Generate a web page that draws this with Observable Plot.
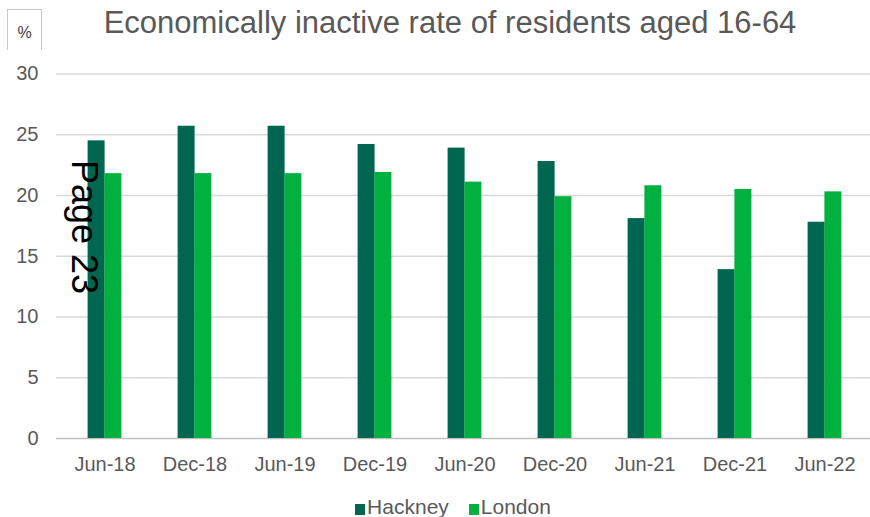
<!DOCTYPE html>
<html>
<head>
<meta charset="utf-8">
<script src="https://cdn.jsdelivr.net/npm/d3@7"></script>
<script src="https://cdn.jsdelivr.net/npm/@observablehq/plot@0.6"></script>
<style>
  html, body { margin: 0; padding: 0; background: #fff; }
  #wrap { position: relative; width: 870px; height: 517px; overflow: hidden; font-family: "Liberation Sans", Arial, sans-serif; color: #595959; }
  #title { position: absolute; left: 30px; width: 840px; top: 7px; text-align: center; font-size: 31px; line-height: 31px; white-space: nowrap; }
  #unit { position: absolute; left: 7px; top: 9px; width: 35px; height: 47px; border: 1px solid #c8c8c8; box-sizing: border-box; font-size: 16px; display: flex; align-items: center; justify-content: center; color: #404040; }
  #chart { position: absolute; left: 0; top: 50px; }
  #legend { position: absolute; left: 18px; width: 870px; top: 496px; font-size: 21px; line-height: 21px; display: flex; justify-content: center; gap: 20px; white-space: nowrap; }
  .sw { display: inline-block; width: 10px; height: 11px; margin-right: 2px; vertical-align: -1px; }
  #page { position: absolute; left: 84px; top: 227px; transform: translate(-50%, -50%) rotate(90deg); font-size: 36px; line-height: 36px; color: #000; white-space: nowrap; font-family: "Liberation Sans", Arial, sans-serif; }
</style>
</head>
<body>
<div id="wrap">
  <div id="title">Economically inactive rate of residents aged 16-64</div>
  <div id="unit">%</div>
  <div id="chart"></div>
  <div id="legend"></div>
  <div id="page">Page 23</div>
</div>
<script>
const periods = ["Jun-18", "Dec-18", "Jun-19", "Dec-19", "Jun-20", "Dec-20", "Jun-21", "Dec-21", "Jun-22"];
const hackney = [24.5, 25.7, 25.7, 24.2, 23.9, 22.8, 18.1, 13.9, 17.8];
const london  = [21.8, 21.8, 21.8, 21.9, 21.1, 19.9, 20.8, 20.5, 20.3];
const seriesNames = ["Hackney", "London"];
const seriesColors = ["#00664F", "#00B140"];
const yTicks = [0, 5, 10, 15, 20, 25, 30];

const hData = periods.map((p, i) => ({period: p, value: hackney[i]}));
const lData = periods.map((p, i) => ({period: p, value: london[i]}));

const chart = Plot.plot({
  width: 870,
  height: 430,
  marginTop: 23.5,
  marginBottom: 42,
  marginLeft: 56,
  marginRight: 0,
  style: {fontFamily: "'Liberation Sans', Arial, sans-serif", fontSize: "20px", color: "#595959", background: "white"},
  x: {domain: periods, range: [56, 873], paddingInner: 0.815, paddingOuter: 0.4075, axis: null, label: null},
  y: {domain: [0, 30], axis: null, label: null},
  marks: [
    Plot.ruleY(yTicks.filter(d => d > 0), {stroke: "#d9d9d9", strokeWidth: 1.5}),
    Plot.ruleY([0], {stroke: "#bfbfbf", strokeWidth: 1.5}),
    Plot.barY(hData, {x: "period", y: "value", fill: seriesColors[0], dx: -8.4}),
    Plot.barY(lData, {x: "period", y: "value", fill: seriesColors[1], dx: 8.4}),
    Plot.axisX({tickSize: 0, tickPadding: 18, fill: "#595959", fontSize: 20, label: null}),
    Plot.axisY({ticks: yTicks, tickSize: 0, tickPadding: 18, fill: "#595959", fontSize: 20, label: null})
  ]
});
document.getElementById("chart").appendChild(chart);

const legend = document.getElementById("legend");
seriesNames.forEach((name, i) => {
  const item = document.createElement("span");
  const sw = document.createElement("span");
  sw.className = "sw";
  sw.style.background = seriesColors[i];
  item.appendChild(sw);
  item.appendChild(document.createTextNode(name));
  legend.appendChild(item);
});
</script>
</body>
</html>
